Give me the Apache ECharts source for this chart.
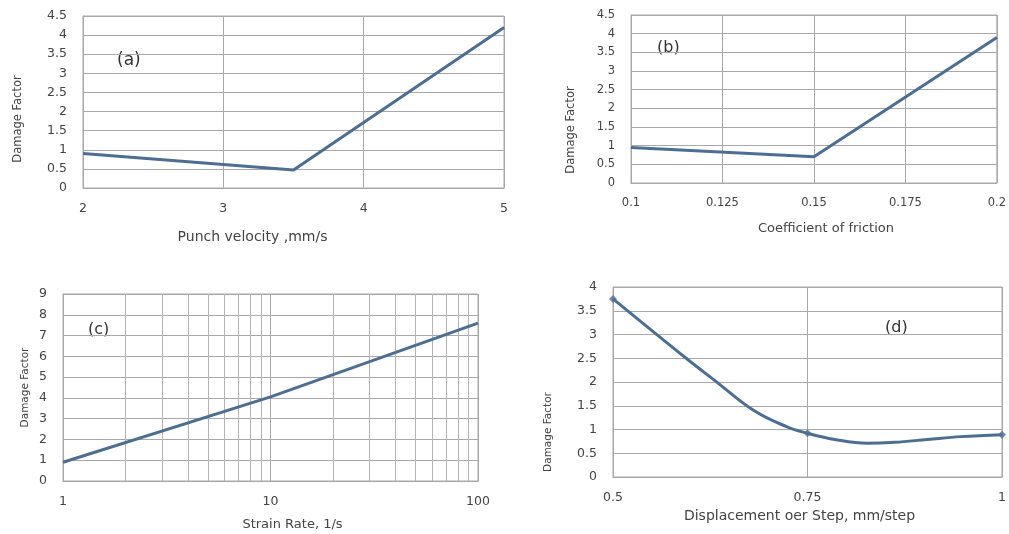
<!DOCTYPE html>
<html>
<head>
<meta charset="utf-8">
<script src="https://cdn.jsdelivr.net/npm/echarts@6/dist/echarts.min.js"></script>
<style>
  html, body { margin: 0; padding: 0; background: #fff; }
  #chart { width: 1009px; height: 534px; }
</style>
</head>
<body>
<div id="chart"></div>
<script>
// (a) punch velocity
const velocityA = [2, 3.5, 5];
const damageA = [0.9, 0.47, 4.2];
// (b) coefficient of friction
const frictionB = [0.1, 0.15, 0.2];
const damageB = [0.95, 0.7, 3.9];
// (c) strain rate (log axis)
const rateC = [1, 10, 100];
const damageC = [0.9, 4.05, 7.6];
const minorGridC = [2, 3, 4, 5, 6, 7, 8, 9, 20, 30, 40, 50, 60, 70, 80, 90];
const dispD = [0.5, 0.75, 1];
const damageD = [3.75, 0.92, 0.89];
const curveXD = [0.5, 0.594, 0.631, 0.68, 0.723, 0.75, 0.785, 0.827, 0.862, 0.904, 0.947, 1];
const curveYD = [3.75, 2.5, 2.03, 1.41, 1.06, 0.92, 0.79, 0.71, 0.73, 0.79, 0.85, 0.89];

const panelLabels = ['(a)', '(b)', '(c)', '(d)'];
const xTitles = ['Punch velocity ,mm/s', 'Coefficient of friction', 'Strain Rate, 1/s', 'Displacement oer Step, mm/step'];
const yTitle = 'Damage Factor';

const lineColor = '#4d6e93';
const gridColor = '#a8a8a8';
const textColor = '#444';
const font = 'DejaVu Sans';

function pairs(xs, ys) {
  return xs.map((x, i) => [x, ys[i]]);
}

function xAxisOpt(idx, extra, nameGap, namePad, nameSize, size) {
  return Object.assign({
    gridIndex: idx,
    type: 'value',
    name: xTitles[idx],
    nameLocation: 'middle',
    nameGap: nameGap,
    nameTextStyle: { color: textColor, fontFamily: font, fontSize: nameSize, padding: namePad },
    axisLine: { show: true, lineStyle: { color: gridColor } },
    axisTick: { show: false },
    axisLabel: { color: textColor, fontFamily: font, fontSize: size, margin: 14 },
    splitLine: { show: true, lineStyle: { color: gridColor } }
  }, extra);
}

function yAxisOpt(idx, max, interval, nameGap, namePad, nameSize, size) {
  return {
    gridIndex: idx,
    type: 'value',
    min: 0,
    max: max,
    interval: interval,
    name: yTitle,
    nameLocation: 'middle',
    nameGap: nameGap,
    nameRotate: 90,
    nameTextStyle: { color: textColor, fontFamily: font, fontSize: nameSize, padding: namePad },
    axisLine: { show: true, lineStyle: { color: gridColor } },
    axisTick: { show: false },
    axisLabel: { color: textColor, fontFamily: font, fontSize: size, margin: 16 },
    splitLine: { show: true, lineStyle: { color: gridColor } }
  };
}

const chart = echarts.init(document.getElementById('chart'));

const option = {
  animation: false,
  backgroundColor: '#fff',
  grid: [
    { left: 83, top: 16, width: 421, height: 172, show: true, borderColor: gridColor, borderWidth: 1 },
    { left: 631, top: 15, width: 370, height: 168, show: true, borderColor: gridColor, borderWidth: 1 },
    { left: 63, top: 294, width: 415, height: 187, show: true, borderColor: gridColor, borderWidth: 1 },
    { left: 613, top: 287, width: 390, height: 190, show: true, borderColor: gridColor, borderWidth: 1 }
  ],
  xAxis: [
    xAxisOpt(0, { min: 2, max: 5, interval: 1 }, 42, [0, 82, 0, 0], 14, 12.5),
    xAxisOpt(1, { min: 0.1, max: 0.2, interval: 0.025 }, 39, [0, 0, 0, 24], 13, 11.5),
    xAxisOpt(2, { type: 'log', logBase: 10, min: 1, max: 100 }, 37, [0, 0, 0, 44], 13, 12.5),
    xAxisOpt(3, { min: 0.5, max: 1, interval: 0.25 }, 32, [0, 16, 0, 0], 14, 12.5)
  ],
  yAxis: [
    yAxisOpt(0, 4.5, 0.5, 59, [0, 34, 0, 0], 11.5, 12.5),
    yAxisOpt(1, 4.5, 0.5, 54, [0, 62, 0, 0], 11.5, 11.5),
    yAxisOpt(2, 9, 1, 32, [0, 0, 0, 0], 10.5, 12.5),
    yAxisOpt(3, 4, 0.5, 59, [0, 100, 0, 0], 10.5, 12.5)
  ],
  series: [
    {
      type: 'line', xAxisIndex: 0, yAxisIndex: 0,
      data: pairs(velocityA, damageA),
      showSymbol: false,
      lineStyle: { color: lineColor, width: 3 }
    },
    {
      type: 'line', xAxisIndex: 1, yAxisIndex: 1,
      data: pairs(frictionB, damageB),
      showSymbol: false,
      lineStyle: { color: lineColor, width: 3 }
    },
    {
      type: 'line', xAxisIndex: 2, yAxisIndex: 2,
      data: pairs(rateC, damageC),
      showSymbol: false,
      lineStyle: { color: lineColor, width: 3 },
      z: 5,
      markLine: {
        silent: true,
        symbol: 'none',
        label: { show: false },
        lineStyle: { color: '#b4b4b4', width: 1, type: 'solid' },
        data: minorGridC.map(v => ({ xAxis: v }))
      }
    },
    {
      type: 'line', xAxisIndex: 3, yAxisIndex: 3,
      data: pairs(curveXD, curveYD),
      smooth: 0.4,
      showSymbol: false,
      lineStyle: { color: lineColor, width: 3 }
    },
    {
      type: 'scatter', xAxisIndex: 3, yAxisIndex: 3,
      data: pairs(dispD, damageD),
      symbol: 'diamond',
      symbolSize: 8,
      itemStyle: { color: lineColor },
      z: 6
    }
  ],
  graphic: [
    { type: 'text', left: 117, top: 52, style: { text: panelLabels[0], font: '17px "DejaVu Sans"', fill: '#333' } },
    { type: 'text', left: 657, top: 40, style: { text: panelLabels[1], font: '16px "DejaVu Sans"', fill: '#333' } },
    { type: 'text', left: 88, top: 322, style: { text: panelLabels[2], font: '16px "DejaVu Sans"', fill: '#333' } },
    { type: 'text', left: 885, top: 320, style: { text: panelLabels[3], font: '16px "DejaVu Sans"', fill: '#333' } }
  ]
};

chart.setOption(option);
</script>
</body>
</html>
